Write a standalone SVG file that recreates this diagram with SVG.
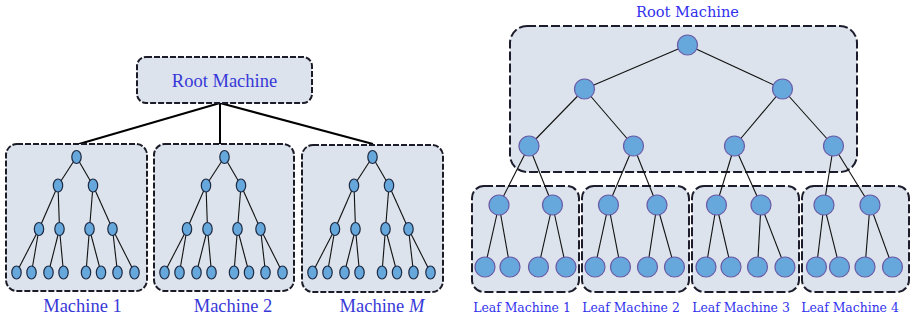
<svg xmlns="http://www.w3.org/2000/svg" width="913" height="320" viewBox="0 0 913 320">
  <style>
    .box { fill: #dce3ec; stroke: #1c1c28; stroke-width: 2; stroke-dasharray: 6 2; }
    .box2 { fill: #dce3ec; stroke: #1c1c2c; stroke-width: 2; stroke-dasharray: 9 3; }
    .edge { stroke: #111; stroke-width: 1.1; fill: none; }
    .link { stroke: #000; stroke-width: 2; fill: none; }
    .en { fill: #66a8dc; stroke: #1e2a44; stroke-width: 1.2; }
    .cn { fill: #66a8dc; stroke: #6a5ca8; stroke-width: 1.2; }
    .lbl { font-family: "Liberation Serif", "Times New Roman", serif; font-size: 18.5px; fill: #3838d8; }
    .lbl2 { font-family: "DejaVu Serif", serif; font-size: 14.6px; fill: #3030ee; }
    .lbl3 { font-family: "DejaVu Serif", serif; font-size: 12.4px; fill: #3030ee; }
  </style>
  <defs>
    <!-- one small binary tree (15 nodes) inside a machine -->
    <g id="subtree">
      <g class="edge">
        <line x1="76.5" y1="157" x2="58" y2="185.5"/>
        <line x1="76.5" y1="157" x2="93" y2="185.5"/>
        <line x1="58" y1="185.5" x2="39" y2="229"/>
        <line x1="58" y1="185.5" x2="59.5" y2="229"/>
        <line x1="93" y1="185.5" x2="89.5" y2="229"/>
        <line x1="93" y1="185.5" x2="112.5" y2="229"/>
        <line x1="39" y1="229" x2="16.5" y2="272.5"/>
        <line x1="39" y1="229" x2="31.5" y2="272.5"/>
        <line x1="59.5" y1="229" x2="48.5" y2="272.5"/>
        <line x1="59.5" y1="229" x2="63.5" y2="272.5"/>
        <line x1="89.5" y1="229" x2="86" y2="272.5"/>
        <line x1="89.5" y1="229" x2="101" y2="272.5"/>
        <line x1="112.5" y1="229" x2="117.5" y2="272.5"/>
        <line x1="112.5" y1="229" x2="134.5" y2="272.5"/>
      </g>
      <g class="en">
        <ellipse cx="76.5" cy="157" rx="4.7" ry="6.5"/>
        <ellipse cx="58" cy="185.5" rx="4.7" ry="6.5"/>
        <ellipse cx="93" cy="185.5" rx="4.7" ry="6.5"/>
        <ellipse cx="39" cy="229" rx="4.7" ry="6.5"/>
        <ellipse cx="59.5" cy="229" rx="4.7" ry="6.5"/>
        <ellipse cx="89.5" cy="229" rx="4.7" ry="6.5"/>
        <ellipse cx="112.5" cy="229" rx="4.7" ry="6.5"/>
        <ellipse cx="16.5" cy="272.5" rx="4.7" ry="6.5"/>
        <ellipse cx="31.5" cy="272.5" rx="4.7" ry="6.5"/>
        <ellipse cx="48.5" cy="272.5" rx="4.7" ry="6.5"/>
        <ellipse cx="63.5" cy="272.5" rx="4.7" ry="6.5"/>
        <ellipse cx="86" cy="272.5" rx="4.7" ry="6.5"/>
        <ellipse cx="101" cy="272.5" rx="4.7" ry="6.5"/>
        <ellipse cx="117.5" cy="272.5" rx="4.7" ry="6.5"/>
        <ellipse cx="134.5" cy="272.5" rx="4.7" ry="6.5"/>
      </g>
    </g>
  </defs>

  <!-- ===== Left: root machine and M machines ===== -->
  <g id="connectors-left">
    <line class="link" x1="220" y1="103" x2="79" y2="144"/>
    <line class="link" x1="220" y1="103" x2="220" y2="144"/>
    <line class="link" x1="220" y1="103" x2="373" y2="144"/>
  </g>

  <g id="root-machine-left">
    <rect class="box" x="137" y="57" width="175" height="46" rx="9"/>
    <text class="lbl" x="224.5" y="87" text-anchor="middle">Root Machine</text>
  </g>

  <g id="machine-1">
    <rect class="box" x="6" y="144" width="141" height="147" rx="11"/>
    <use href="#subtree"/>
    <text class="lbl" x="82.5" y="312" text-anchor="middle">Machine 1</text>
  </g>

  <g id="machine-2">
    <rect class="box" x="154" y="144" width="140" height="147" rx="11"/>
    <use href="#subtree" transform="translate(148 0)"/>
    <text class="lbl" x="233" y="312" text-anchor="middle">Machine 2</text>
  </g>

  <g id="machine-m">
    <rect class="box" x="302" y="145" width="141" height="147" rx="11"/>
    <use href="#subtree" transform="translate(296 0)"/>
    <text class="lbl" x="382" y="312" text-anchor="middle">Machine <tspan font-style="italic">M</tspan></text>
  </g>

  <!-- ===== Right: root machine holding the upper tree, four leaf machines ===== -->
  <g id="root-machine-right">
    <rect class="box2" x="510" y="26" width="347" height="146" rx="17"/>
    <text class="lbl2" x="687.5" y="17" text-anchor="middle">Root Machine</text>
  </g>

  <g id="leaf-machine-1">
    <rect class="box2" x="472" y="186" width="107" height="106" rx="12"/>
    <text class="lbl3" x="522" y="312" text-anchor="middle">Leaf Machine 1</text>
  </g>
  <g id="leaf-machine-2">
    <rect class="box2" x="582" y="186" width="107" height="106" rx="12"/>
    <text class="lbl3" x="631" y="312" text-anchor="middle">Leaf Machine 2</text>
  </g>
  <g id="leaf-machine-3">
    <rect class="box2" x="692" y="186" width="107" height="106" rx="12"/>
    <text class="lbl3" x="741" y="312" text-anchor="middle">Leaf Machine 3</text>
  </g>
  <g id="leaf-machine-4">
    <rect class="box2" x="802" y="186" width="107" height="106" rx="12"/>
    <text class="lbl3" x="850" y="312" text-anchor="middle">Leaf Machine 4</text>
  </g>

  <g id="connectors-right" class="edge">
    <line x1="687.5" y1="45" x2="584.5" y2="89"/>
    <line x1="687.5" y1="45" x2="782.5" y2="89"/>
    <line x1="584.5" y1="89" x2="529" y2="146"/>
    <line x1="584.5" y1="89" x2="633.5" y2="146"/>
    <line x1="782.5" y1="89" x2="734.5" y2="146"/>
    <line x1="782.5" y1="89" x2="833.5" y2="146"/>
    <line x1="529" y1="146" x2="499" y2="205"/>
    <line x1="529" y1="146" x2="552.5" y2="205"/>
    <line x1="633.5" y1="146" x2="608.5" y2="205"/>
    <line x1="633.5" y1="146" x2="657" y2="205"/>
    <line x1="734.5" y1="146" x2="716.5" y2="205"/>
    <line x1="734.5" y1="146" x2="761" y2="205"/>
    <line x1="833.5" y1="146" x2="824" y2="205"/>
    <line x1="833.5" y1="146" x2="870" y2="205"/>
    <line x1="499" y1="205" x2="485" y2="267"/>
    <line x1="499" y1="205" x2="510" y2="267"/>
    <line x1="552.5" y1="205" x2="538.5" y2="267"/>
    <line x1="552.5" y1="205" x2="566" y2="267"/>
    <line x1="608.5" y1="205" x2="595" y2="267"/>
    <line x1="608.5" y1="205" x2="620.5" y2="267"/>
    <line x1="657" y1="205" x2="647.5" y2="267"/>
    <line x1="657" y1="205" x2="674.5" y2="267"/>
    <line x1="716.5" y1="205" x2="706" y2="267"/>
    <line x1="716.5" y1="205" x2="731" y2="267"/>
    <line x1="761" y1="205" x2="757.5" y2="267"/>
    <line x1="761" y1="205" x2="785" y2="267"/>
    <line x1="824" y1="205" x2="816.5" y2="267"/>
    <line x1="824" y1="205" x2="839.5" y2="267"/>
    <line x1="870" y1="205" x2="865" y2="267"/>
    <line x1="870" y1="205" x2="892.5" y2="267"/>
  </g>

  <g id="tree-nodes-right" class="cn">
    <circle cx="687.5" cy="45" r="10"/>
    <circle cx="584.5" cy="89" r="10"/>
    <circle cx="782.5" cy="89" r="10"/>
    <circle cx="529" cy="146" r="10"/>
    <circle cx="633.5" cy="146" r="10"/>
    <circle cx="734.5" cy="146" r="10"/>
    <circle cx="833.5" cy="146" r="10"/>
    <circle cx="499" cy="205" r="10"/>
    <circle cx="552.5" cy="205" r="10"/>
    <circle cx="608.5" cy="205" r="10"/>
    <circle cx="657" cy="205" r="10"/>
    <circle cx="716.5" cy="205" r="10"/>
    <circle cx="761" cy="205" r="10"/>
    <circle cx="824" cy="205" r="10"/>
    <circle cx="870" cy="205" r="10"/>
    <circle cx="485" cy="267" r="10"/>
    <circle cx="510" cy="267" r="10"/>
    <circle cx="538.5" cy="267" r="10"/>
    <circle cx="566" cy="267" r="10"/>
    <circle cx="595" cy="267" r="10"/>
    <circle cx="620.5" cy="267" r="10"/>
    <circle cx="647.5" cy="267" r="10"/>
    <circle cx="674.5" cy="267" r="10"/>
    <circle cx="706" cy="267" r="10"/>
    <circle cx="731" cy="267" r="10"/>
    <circle cx="757.5" cy="267" r="10"/>
    <circle cx="785" cy="267" r="10"/>
    <circle cx="816.5" cy="267" r="10"/>
    <circle cx="839.5" cy="267" r="10"/>
    <circle cx="865" cy="267" r="10"/>
    <circle cx="892.5" cy="267" r="10"/>
  </g>
</svg>
